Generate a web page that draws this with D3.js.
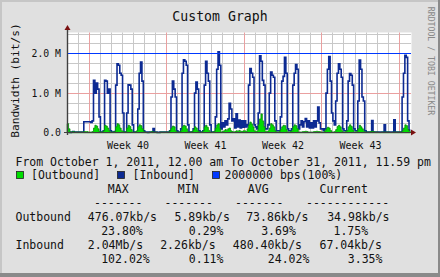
<!DOCTYPE html>
<html><head><meta charset="utf-8">
<script src="https://cdn.jsdelivr.net/npm/d3@7"></script>
<style>html,body{margin:0;padding:0;background:#e0e0e0;overflow:hidden}</style>
</head><body><svg id="c" width="440" height="277"></svg>
<script>
// ---------- data ----------
const startDate = new Date(2011, 9, 1);
const endDate = new Date(2011, 10, 1);
const stepHours = 3;
// Inbound, Mb/s, 8 readings per day (0h,3h,...,21h), Oct 1 .. Oct 31
const inbound = [
  0.02,0.02,0.01,0.02,0.03,0.02,0.02,0.02,
  0.02,0.02,0.02,0.02,0.28,0.28,0.28,0.28,
  0.28,0.26,0.30,1.32,1.00,1.25,1.10,0.40,
  0.02,0.02,0.05,1.32,1.30,1.00,1.10,0.05,
  0.02,0.02,0.03,1.20,1.74,1.70,1.50,1.45,
  0.50,0.02,0.02,0.50,1.21,1.20,1.10,0.20,
  0.02,0.02,0.02,0.60,1.50,1.78,1.30,0.05,
  0.02,0.02,0.01,0.02,0.02,0.02,0.11,0.02,
  0.02,0.01,0.01,0.02,0.02,0.02,0.02,0.02,
  0.02,0.02,0.05,0.90,1.30,1.10,0.90,0.05,
  0.02,0.02,0.10,1.50,1.84,1.80,1.70,0.20,
  0.02,0.02,0.02,0.10,1.00,1.28,1.10,0.05,
  0.02,0.02,0.05,1.20,1.80,1.50,1.30,0.20,
  0.02,0.02,0.02,0.40,1.60,2.04,1.70,0.10,
  0.25,0.15,0.30,0.20,0.35,0.74,0.60,0.30,
  0.35,0.12,0.48,0.15,0.32,0.12,0.30,0.14,
  0.30,0.15,0.20,1.20,1.62,1.50,1.40,0.20,
  0.15,0.10,0.50,1.94,1.80,1.32,1.20,0.10,
  0.10,0.20,1.00,1.53,1.45,1.40,0.30,0.05,
  0.05,0.05,0.40,1.30,1.42,1.90,1.50,0.10,
  0.05,0.05,0.10,1.20,1.50,1.72,1.60,0.10,
  0.20,0.30,0.15,0.28,0.36,0.15,0.30,0.12,
  0.25,0.12,0.30,0.15,0.30,0.65,0.25,0.10,
  0.10,0.05,0.10,1.00,1.60,1.92,1.30,0.50,
  0.30,0.20,0.80,1.50,1.74,1.60,1.40,0.10,
  0.05,0.05,0.30,1.30,1.49,1.45,1.20,0.10,
  0.05,0.05,0.80,1.83,1.60,0.90,0.80,0.05,
  0.02,0.02,0.02,0.02,0.31,0.02,0.02,0.02,
  0.02,0.02,0.02,0.02,0.02,0.20,0.02,0.02,
  0.02,0.02,0.02,0.02,0.33,0.02,0.02,0.02,
  0.02,0.02,0.90,1.50,1.95,1.90,0.30,0.067
];
// Outbound, Mb/s, same sampling
const outbound = [
  0.23,0.10,0.02,0.02,0.03,0.02,0.02,0.02,
  0.02,0.02,0.02,0.02,0.03,0.03,0.03,0.02,
  0.02,0.02,0.03,0.12,0.19,0.17,0.10,0.03,
  0.02,0.02,0.05,0.19,0.17,0.12,0.05,0.02,
  0.02,0.02,0.03,0.15,0.23,0.20,0.12,0.05,
  0.03,0.02,0.02,0.12,0.19,0.16,0.08,0.02,
  0.02,0.02,0.05,0.15,0.20,0.18,0.10,0.03,
  0.02,0.01,0.01,0.02,0.02,0.03,0.02,0.02,
  0.02,0.01,0.01,0.02,0.02,0.02,0.02,0.02,
  0.02,0.02,0.05,0.12,0.17,0.15,0.05,0.02,
  0.02,0.02,0.05,0.15,0.19,0.17,0.10,0.02,
  0.02,0.02,0.03,0.08,0.15,0.12,0.05,0.02,
  0.02,0.02,0.05,0.15,0.19,0.14,0.06,0.02,
  0.02,0.02,0.04,0.12,0.20,0.23,0.10,0.02,
  0.03,0.05,0.08,0.06,0.10,0.12,0.05,0.03,
  0.02,0.03,0.05,0.04,0.06,0.04,0.03,0.05,
  0.05,0.03,0.10,0.20,0.27,0.22,0.15,0.05,
  0.03,0.05,0.20,0.35,0.476,0.30,0.15,0.03,
  0.03,0.05,0.12,0.23,0.20,0.15,0.05,0.02,
  0.02,0.03,0.08,0.15,0.19,0.18,0.08,0.02,
  0.02,0.03,0.05,0.15,0.20,0.18,0.10,0.02,
  0.02,0.02,0.03,0.03,0.04,0.03,0.02,0.02,
  0.02,0.02,0.03,0.03,0.04,0.03,0.03,0.02,
  0.02,0.02,0.05,0.10,0.14,0.12,0.06,0.02,
  0.02,0.03,0.08,0.16,0.19,0.15,0.06,0.02,
  0.02,0.03,0.06,0.15,0.20,0.16,0.07,0.02,
  0.02,0.03,0.10,0.19,0.15,0.10,0.04,0.02,
  0.02,0.02,0.02,0.03,0.04,0.03,0.02,0.02,
  0.02,0.01,0.01,0.02,0.02,0.02,0.02,0.02,
  0.02,0.01,0.01,0.02,0.02,0.02,0.02,0.02,
  0.02,0.02,0.05,0.12,0.20,0.18,0.08,0.035
];
const thresholdMbps = 2.0;
const yTickValues = [0, 1, 2];
const yTickLabels = ["0.0", "1.0 M", "2.0 M"];
const weekLabels = ["Week 40", "Week 41", "Week 42", "Week 43"];
const weekStarts = [new Date(2011,9,3), new Date(2011,9,10), new Date(2011,9,17), new Date(2011,9,24)];
const titleText = "Custom Graph";
const yAxisTitle = "Bandwidth (bit/s)";
const watermark = "RRDTOOL / TOBI OETIKER";
const periodText = "From October 1, 2011, 12.00 am To October 31, 2011, 11.59 pm";
const legendLabels = ["[Outbound]", "[Inbound]", "2000000 bps(100%)"];
const statHeaders = ["MAX", "MIN", "AVG", "Current"];
const statDashes = ["-------", "-------", "-------", "------------"];
const rowNames = ["Outbound", "Inbound"];
const outboundStats = ["476.07kb/s", "5.89kb/s", "73.86kb/s", "34.98kb/s"];
const outboundPct = ["23.80%", "0.29%", "3.69%", "1.75%"];
const inboundStats = ["2.04Mb/s", "2.26kb/s", "480.40kb/s", "67.04kb/s"];
const inboundPct = ["102.02%", "0.11%", "24.02%", "3.35%"];

// ---------- styles ----------
const C = {
  bg: "#e0e0e0", canvas: "#ffffff", minor: "#c8c8c8", major: "#eaa0a0",
  outFill: "#00dd00", outStroke: "#0a8a0a", inLine: "#0c2a92", hrule: "#0038ff",
  axis: "#404040", arrow: "#7a1010", text: "#111111", mark: "#888888"
};
const FONT = "'DejaVu Sans Mono', monospace";

const svg = d3.select("#c");
svg.append("rect").attr("width", 440).attr("height", 277).attr("fill", C.bg);
// frame
svg.append("rect").attr("x",0).attr("y",0).attr("width",440).attr("height",2).attr("fill","#c6c6c6");
svg.append("rect").attr("x",0).attr("y",0).attr("width",2).attr("height",277).attr("fill","#c6c6c6");
svg.append("rect").attr("x",438).attr("y",0).attr("width",2).attr("height",277).attr("fill","#8a8a8a");
svg.append("rect").attr("x",0).attr("y",273).attr("width",440).attr("height",4).attr("fill","#8a8a8a");

const x = d3.scaleTime().domain([startDate, endDate]).range([67.2, 410.4]);
const y = d3.scaleLinear().domain([0, 2.5]).range([132.8, 33.5]);
const px = v => Math.floor(x(v)) + 0.5;
const py = v => Math.round(y(v)) + 0.5;

// canvas
svg.append("rect").attr("x", 67).attr("y", 32.5).attr("width", 344.5).attr("height", 100).attr("fill", C.canvas);

const g = svg.append("g");
// minor grid
const days = d3.timeDay.range(d3.timeDay.offset(startDate, 1), endDate);
g.selectAll(".vmin").data(days.filter(d => d.getDay() !== 1)).join("line")
  .attr("x1", d => px(d)).attr("x2", d => px(d)).attr("y1", 32.5).attr("y2", 132.5)
  .attr("stroke", C.minor).attr("stroke-width", 1);
const hmin = d3.range(0.25, 2.51, 0.25).filter(v => Math.abs(v - Math.round(v)) > 1e-6);
g.selectAll(".hmin").data(hmin).join("line")
  .attr("x1", 67).attr("x2", 411).attr("y1", d => py(d)).attr("y2", d => py(d))
  .attr("stroke", C.minor).attr("stroke-width", 1);
// major grid
g.selectAll(".vmaj").data(weekStarts.concat([new Date(2011,9,31)])).join("line")
  .attr("x1", d => px(d)).attr("x2", d => px(d)).attr("y1", 32.5).attr("y2", 132.5)
  .attr("stroke", C.major).attr("stroke-width", 1);
g.selectAll(".hmaj").data([1, 2]).join("line")
  .attr("x1", 67).attr("x2", 411).attr("y1", d => py(d)).attr("y2", d => py(d))
  .attr("stroke", C.major).attr("stroke-width", 1);

function series(arr) {
  const pts = arr.map((v, i) => ({ t: d3.timeHour.offset(startDate, i * stepHours), v }));
  pts.push({ t: endDate, v: arr[arr.length - 1] });
  return pts;
}
const inPts = series(inbound), outPts = series(outbound);

const line = d3.line().x(d => x(d.t)).y(d => y(d.v)).curve(d3.curveStepAfter);
const area = d3.area().x(d => x(d.t)).y0(y(0)).y1(d => y(d.v)).curve(d3.curveStepAfter);

g.append("path").attr("d", line(inPts)).attr("fill", "none")
  .attr("stroke", C.inLine).attr("stroke-width", 1.6);
g.append("path").attr("d", area(outPts)).attr("fill", C.outFill)
  .attr("stroke", C.outStroke).attr("stroke-width", 0.8);
// threshold rule
g.append("line").attr("x1", 67).attr("x2", 411).attr("y1", py(thresholdMbps)).attr("y2", py(thresholdMbps))
  .attr("stroke", C.hrule).attr("stroke-width", 1);

// axes
svg.append("line").attr("x1", 64).attr("x2", 412).attr("y1", 132.5).attr("y2", 132.5)
  .attr("stroke", C.axis).attr("stroke-width", 1.2);
svg.append("line").attr("x1", 67.5).attr("x2", 67.5).attr("y1", 135).attr("y2", 29)
  .attr("stroke", C.axis).attr("stroke-width", 1.4);
svg.append("path").attr("d", "M411,129.5 L416,132.5 L411,135.5 Z").attr("fill", C.arrow);
svg.append("path").attr("d", "M64.5,30 L67.5,25 L70.5,30 Z").attr("fill", C.arrow);

// y tick labels
svg.selectAll(".ytl").data(yTickValues).join("text")
  .attr("x", 61).attr("y", d => y(d) + 3.6).attr("text-anchor", "end")
  .attr("font-family", FONT).attr("font-size", 9.8).attr("fill", C.text)
  .text((d, i) => yTickLabels[i]);
// week labels
svg.selectAll(".wl").data(weekStarts).join("text")
  .attr("x", d => x(d3.timeHour.offset(d, 84))).attr("y", 148.5).attr("text-anchor", "middle")
  .attr("font-family", FONT).attr("font-size", 10).attr("fill", C.text)
  .text((d, i) => weekLabels[i]);

// title
svg.append("text").attr("x", 220).attr("y", 20.5).attr("text-anchor", "middle")
  .attr("font-family", FONT).attr("font-size", 13.2).attr("fill", C.text).text(titleText);
// y title
svg.append("text").attr("transform", "translate(19.3,80.5) rotate(-90)").attr("text-anchor", "middle")
  .attr("font-family", FONT).attr("font-size", 11.2).attr("fill", C.text).text(yAxisTitle);
// watermark
svg.append("text").attr("transform", "translate(427.5,61) rotate(90)").attr("text-anchor", "middle")
  .attr("font-family", FONT).attr("font-size", 8.2).attr("fill", C.mark).text(watermark);

// legend
const LF = 11.5;
function txt(s, xx, yy) {
  svg.append("text").attr("x", xx).attr("y", yy).attr("font-family", FONT)
    .attr("font-size", LF).attr("fill", C.text).attr("xml:space", "preserve").text(s);
}
txt(periodText, 15.5, 165.5);
const boxX = [16.5, 117.5, 212.5], boxC = [C.outFill, C.inLine, C.hrule], labX = [31, 132.5, 224.5];
legendLabels.forEach((s, i) => {
  svg.append("rect").attr("x", boxX[i]).attr("y", 171.5).attr("width", 7).attr("height", 7)
    .attr("fill", boxC[i]).attr("stroke", "#222").attr("stroke-width", 0.8);
  txt(s, labX[i], 179);
});
const hdrX = [107.8, 177.8, 247.8, 319.5];
statHeaders.forEach((s, i) => txt(s, hdrX[i], 193));
const dashX = [94, 164.5, 235, 306];
statDashes.forEach((s, i) => txt(s, dashX[i], 207));
txt(rowNames[0], 15.5, 221);
txt(rowNames[1], 15.5, 249.3);
const r1 = [87.8, 174.5, 246.2, 327.2];
const r2 = [101.2, 188.8, 261.2, 333.5];
const r3 = [87.8, 160.2, 232.8, 319.5];
const r4 = [101.2, 188.8, 267.8, 347.8];
outboundStats.forEach((s, i) => txt(s, r1[i], 221));
outboundPct.forEach((s, i) => txt(s, r2[i], 234.8));
inboundStats.forEach((s, i) => txt(s, r3[i], 249.3));
inboundPct.forEach((s, i) => txt(s, r4[i], 263.3));
</script></body></html>
